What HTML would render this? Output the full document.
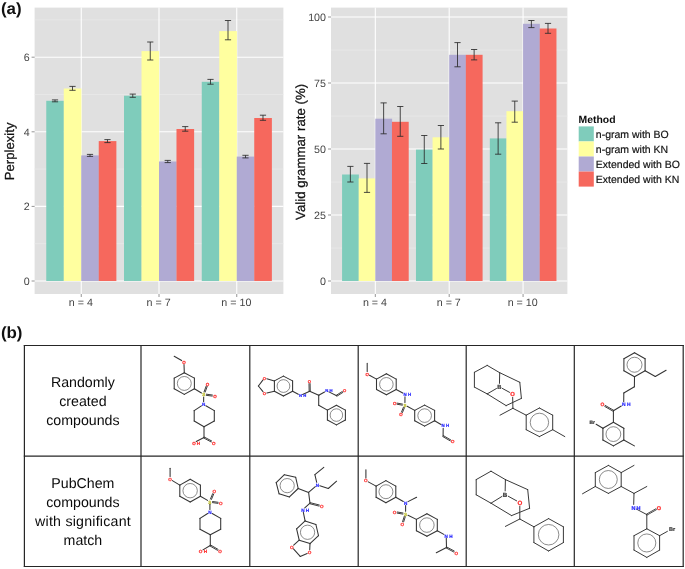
<!DOCTYPE html>
<html><head><meta charset="utf-8"><title>Figure</title>
<style>html,body{margin:0;padding:0;background:#fff;}body{width:685px;height:569px;overflow:hidden;font-family:"Liberation Sans",sans-serif;}svg text{font-family:"Liberation Sans",sans-serif;text-rendering:geometricPrecision;}</style>
</head><body>
<svg width="685" height="569" viewBox="0 0 685 569" font-family='"Liberation Sans", sans-serif' style="display:block;filter:blur(0.35px)">
<rect width="685" height="569" fill="#fff"/>
<rect x="34.6" y="7.6" width="248.79999999999998" height="286.4" fill="#e0e0e0"/>
<line x1="34.6" x2="283.4" y1="243.70" y2="243.70" stroke="#e9e9e9" stroke-width="0.7"/>
<line x1="34.6" x2="283.4" y1="169.10" y2="169.10" stroke="#e9e9e9" stroke-width="0.7"/>
<line x1="34.6" x2="283.4" y1="94.50" y2="94.50" stroke="#e9e9e9" stroke-width="0.7"/>
<line x1="34.6" x2="283.4" y1="19.90" y2="19.90" stroke="#e9e9e9" stroke-width="0.7"/>
<line x1="34.6" x2="283.4" y1="281.00" y2="281.00" stroke="#fff" stroke-width="1.1"/>
<line x1="31.6" x2="34.6" y1="281.00" y2="281.00" stroke="#7a7a7a" stroke-width="0.8"/>
<text x="29.6" y="284.80" font-size="10.7" fill="#444" text-anchor="end">0</text>
<line x1="34.6" x2="283.4" y1="206.40" y2="206.40" stroke="#fff" stroke-width="1.1"/>
<line x1="31.6" x2="34.6" y1="206.40" y2="206.40" stroke="#7a7a7a" stroke-width="0.8"/>
<text x="29.6" y="210.20" font-size="10.7" fill="#444" text-anchor="end">2</text>
<line x1="34.6" x2="283.4" y1="131.80" y2="131.80" stroke="#fff" stroke-width="1.1"/>
<line x1="31.6" x2="34.6" y1="131.80" y2="131.80" stroke="#7a7a7a" stroke-width="0.8"/>
<text x="29.6" y="135.60" font-size="10.7" fill="#444" text-anchor="end">4</text>
<line x1="34.6" x2="283.4" y1="57.20" y2="57.20" stroke="#fff" stroke-width="1.1"/>
<line x1="31.6" x2="34.6" y1="57.20" y2="57.20" stroke="#7a7a7a" stroke-width="0.8"/>
<text x="29.6" y="61.00" font-size="10.7" fill="#444" text-anchor="end">6</text>
<line x1="81.25" x2="81.25" y1="7.6" y2="294" stroke="#fff" stroke-width="1.1"/>
<line x1="81.25" x2="81.25" y1="294" y2="297" stroke="#7a7a7a" stroke-width="0.8"/>
<line x1="159.00" x2="159.00" y1="7.6" y2="294" stroke="#fff" stroke-width="1.1"/>
<line x1="159.00" x2="159.00" y1="294" y2="297" stroke="#7a7a7a" stroke-width="0.8"/>
<line x1="236.75" x2="236.75" y1="7.6" y2="294" stroke="#fff" stroke-width="1.1"/>
<line x1="236.75" x2="236.75" y1="294" y2="297" stroke="#7a7a7a" stroke-width="0.8"/>
<rect x="46.26" y="100.80" width="17.64" height="180.20" fill="#7fccbb"/>
<rect x="63.76" y="88.50" width="17.64" height="192.50" fill="#ffff9f"/>
<rect x="81.25" y="155.40" width="17.64" height="125.60" fill="#b0aad3"/>
<rect x="98.74" y="141.10" width="17.64" height="139.90" fill="#f6685d"/>
<rect x="124.01" y="95.70" width="17.64" height="185.30" fill="#7fccbb"/>
<rect x="141.51" y="51.10" width="17.64" height="229.90" fill="#ffff9f"/>
<rect x="159.00" y="161.50" width="17.64" height="119.50" fill="#b0aad3"/>
<rect x="176.49" y="129.00" width="17.64" height="152.00" fill="#f6685d"/>
<rect x="201.76" y="81.80" width="17.64" height="199.20" fill="#7fccbb"/>
<rect x="219.26" y="31.10" width="17.64" height="249.90" fill="#ffff9f"/>
<rect x="236.75" y="156.60" width="17.64" height="124.40" fill="#b0aad3"/>
<rect x="254.24" y="118.00" width="17.64" height="163.00" fill="#f6685d"/>
<path d="M51.91 99.90H58.11M51.91 101.80H58.11M55.01 99.90V101.80" stroke="#2b2b2b" stroke-width="0.85" fill="none"/>
<path d="M69.40 86.40H75.60M69.40 90.30H75.60M72.50 86.40V90.30" stroke="#2b2b2b" stroke-width="0.85" fill="none"/>
<path d="M86.90 154.40H93.10M86.90 156.40H93.10M90.00 154.40V156.40" stroke="#2b2b2b" stroke-width="0.85" fill="none"/>
<path d="M104.39 139.60H110.59M104.39 142.60H110.59M107.49 139.60V142.60" stroke="#2b2b2b" stroke-width="0.85" fill="none"/>
<path d="M129.66 94.10H135.86M129.66 97.30H135.86M132.76 94.10V97.30" stroke="#2b2b2b" stroke-width="0.85" fill="none"/>
<path d="M147.15 42.00H153.35M147.15 60.00H153.35M150.25 42.00V60.00" stroke="#2b2b2b" stroke-width="0.85" fill="none"/>
<path d="M164.65 160.40H170.85M164.65 162.60H170.85M167.75 160.40V162.60" stroke="#2b2b2b" stroke-width="0.85" fill="none"/>
<path d="M182.14 126.60H188.34M182.14 131.20H188.34M185.24 126.60V131.20" stroke="#2b2b2b" stroke-width="0.85" fill="none"/>
<path d="M207.41 79.40H213.61M207.41 84.20H213.61M210.51 79.40V84.20" stroke="#2b2b2b" stroke-width="0.85" fill="none"/>
<path d="M224.90 20.50H231.10M224.90 39.80H231.10M228.00 20.50V39.80" stroke="#2b2b2b" stroke-width="0.85" fill="none"/>
<path d="M242.40 155.30H248.60M242.40 157.90H248.60M245.50 155.30V157.90" stroke="#2b2b2b" stroke-width="0.85" fill="none"/>
<path d="M259.89 115.20H266.09M259.89 120.30H266.09M262.99 115.20V120.30" stroke="#2b2b2b" stroke-width="0.85" fill="none"/>
<text x="80.85" y="306.00" font-size="10.7" fill="#444" text-anchor="middle">n = 4</text>
<text x="158.60" y="306.00" font-size="10.7" fill="#444" text-anchor="middle">n = 7</text>
<text x="236.35" y="306.00" font-size="10.7" fill="#444" text-anchor="middle">n = 10</text>
<rect x="331" y="7.6" width="236.39999999999998" height="286.4" fill="#e0e0e0"/>
<line x1="331" x2="567.4" y1="248.00" y2="248.00" stroke="#e9e9e9" stroke-width="0.7"/>
<line x1="331" x2="567.4" y1="182.00" y2="182.00" stroke="#e9e9e9" stroke-width="0.7"/>
<line x1="331" x2="567.4" y1="116.00" y2="116.00" stroke="#e9e9e9" stroke-width="0.7"/>
<line x1="331" x2="567.4" y1="50.00" y2="50.00" stroke="#e9e9e9" stroke-width="0.7"/>
<line x1="331" x2="567.4" y1="281.00" y2="281.00" stroke="#fff" stroke-width="1.1"/>
<line x1="328" x2="331" y1="281.00" y2="281.00" stroke="#7a7a7a" stroke-width="0.8"/>
<text x="326" y="284.80" font-size="10.7" fill="#444" text-anchor="end">0</text>
<line x1="331" x2="567.4" y1="215.00" y2="215.00" stroke="#fff" stroke-width="1.1"/>
<line x1="328" x2="331" y1="215.00" y2="215.00" stroke="#7a7a7a" stroke-width="0.8"/>
<text x="326" y="218.80" font-size="10.7" fill="#444" text-anchor="end">25</text>
<line x1="331" x2="567.4" y1="149.00" y2="149.00" stroke="#fff" stroke-width="1.1"/>
<line x1="328" x2="331" y1="149.00" y2="149.00" stroke="#7a7a7a" stroke-width="0.8"/>
<text x="326" y="152.80" font-size="10.7" fill="#444" text-anchor="end">50</text>
<line x1="331" x2="567.4" y1="83.00" y2="83.00" stroke="#fff" stroke-width="1.1"/>
<line x1="328" x2="331" y1="83.00" y2="83.00" stroke="#7a7a7a" stroke-width="0.8"/>
<text x="326" y="86.80" font-size="10.7" fill="#444" text-anchor="end">75</text>
<line x1="331" x2="567.4" y1="17.00" y2="17.00" stroke="#fff" stroke-width="1.1"/>
<line x1="328" x2="331" y1="17.00" y2="17.00" stroke="#7a7a7a" stroke-width="0.8"/>
<text x="326" y="20.80" font-size="10.7" fill="#444" text-anchor="end">100</text>
<line x1="375.32" x2="375.32" y1="7.6" y2="294" stroke="#fff" stroke-width="1.1"/>
<line x1="375.32" x2="375.32" y1="294" y2="297" stroke="#7a7a7a" stroke-width="0.8"/>
<line x1="449.20" x2="449.20" y1="7.6" y2="294" stroke="#fff" stroke-width="1.1"/>
<line x1="449.20" x2="449.20" y1="294" y2="297" stroke="#7a7a7a" stroke-width="0.8"/>
<line x1="523.07" x2="523.07" y1="7.6" y2="294" stroke="#fff" stroke-width="1.1"/>
<line x1="523.07" x2="523.07" y1="294" y2="297" stroke="#7a7a7a" stroke-width="0.8"/>
<rect x="342.08" y="174.50" width="16.77" height="106.50" fill="#7fccbb"/>
<rect x="358.70" y="178.40" width="16.77" height="102.60" fill="#ffff9f"/>
<rect x="375.32" y="118.70" width="16.77" height="162.30" fill="#b0aad3"/>
<rect x="391.95" y="121.80" width="16.77" height="159.20" fill="#f6685d"/>
<rect x="415.96" y="149.60" width="16.77" height="131.40" fill="#7fccbb"/>
<rect x="432.58" y="137.30" width="16.77" height="143.70" fill="#ffff9f"/>
<rect x="449.20" y="54.80" width="16.77" height="226.20" fill="#b0aad3"/>
<rect x="465.82" y="54.80" width="16.77" height="226.20" fill="#f6685d"/>
<rect x="489.83" y="138.40" width="16.77" height="142.60" fill="#7fccbb"/>
<rect x="506.45" y="111.20" width="16.77" height="169.80" fill="#ffff9f"/>
<rect x="523.07" y="23.80" width="16.77" height="257.20" fill="#b0aad3"/>
<rect x="539.70" y="28.50" width="16.77" height="252.50" fill="#f6685d"/>
<path d="M347.29 166.40H353.49M347.29 182.00H353.49M350.39 166.40V182.00" stroke="#2b2b2b" stroke-width="0.85" fill="none"/>
<path d="M363.91 163.40H370.11M363.91 192.40H370.11M367.01 163.40V192.40" stroke="#2b2b2b" stroke-width="0.85" fill="none"/>
<path d="M380.54 102.90H386.74M380.54 133.80H386.74M383.64 102.90V133.80" stroke="#2b2b2b" stroke-width="0.85" fill="none"/>
<path d="M397.16 106.50H403.36M397.16 136.30H403.36M400.26 106.50V136.30" stroke="#2b2b2b" stroke-width="0.85" fill="none"/>
<path d="M421.17 135.50H427.37M421.17 163.50H427.37M424.27 135.50V163.50" stroke="#2b2b2b" stroke-width="0.85" fill="none"/>
<path d="M437.79 125.50H443.99M437.79 149.00H443.99M440.89 125.50V149.00" stroke="#2b2b2b" stroke-width="0.85" fill="none"/>
<path d="M454.41 42.60H460.61M454.41 66.80H460.61M457.51 42.60V66.80" stroke="#2b2b2b" stroke-width="0.85" fill="none"/>
<path d="M471.03 49.50H477.23M471.03 59.90H477.23M474.13 49.50V59.90" stroke="#2b2b2b" stroke-width="0.85" fill="none"/>
<path d="M495.04 122.80H501.24M495.04 154.20H501.24M498.14 122.80V154.20" stroke="#2b2b2b" stroke-width="0.85" fill="none"/>
<path d="M511.66 101.10H517.86M511.66 122.20H517.86M514.76 101.10V122.20" stroke="#2b2b2b" stroke-width="0.85" fill="none"/>
<path d="M528.29 20.50H534.49M528.29 27.60H534.49M531.39 20.50V27.60" stroke="#2b2b2b" stroke-width="0.85" fill="none"/>
<path d="M544.91 23.40H551.11M544.91 33.30H551.11M548.01 23.40V33.30" stroke="#2b2b2b" stroke-width="0.85" fill="none"/>
<text x="374.93" y="306.00" font-size="10.7" fill="#444" text-anchor="middle">n = 4</text>
<text x="448.80" y="306.00" font-size="10.7" fill="#444" text-anchor="middle">n = 7</text>
<text x="522.67" y="306.00" font-size="10.7" fill="#444" text-anchor="middle">n = 10</text>
<text transform="translate(14.0 151.4) rotate(-90)" font-size="13.15" fill="#111" stroke="#111" stroke-width="0.25" text-anchor="middle">Perplexity</text>
<text transform="translate(305.0 151.9) rotate(-90)" font-size="13.25" fill="#111" stroke="#111" stroke-width="0.25" text-anchor="middle">Valid grammar rate (%)</text>
<text x="0.9" y="13.8" font-size="16.3" font-weight="bold" fill="#111" textLength="20.7" lengthAdjust="spacingAndGlyphs">(a)</text>
<text x="0.9" y="337.6" font-size="16.3" font-weight="bold" fill="#111" textLength="21.6" lengthAdjust="spacingAndGlyphs">(b)</text>
<text x="578.6" y="122.7" font-size="10.4" font-weight="bold" fill="#0a0a0a">Method</text>
<rect x="578.7" y="126.40" width="15.1" height="15.05" fill="#7fccbb"/>
<text x="595.8" y="138.15" font-size="10.5" fill="#111" stroke="#111" stroke-width="0.18">n-gram with BO</text>
<rect x="578.7" y="141.45" width="15.1" height="15.05" fill="#ffff9f"/>
<text x="595.8" y="153.20" font-size="10.5" fill="#111" stroke="#111" stroke-width="0.18">n-gram with KN</text>
<rect x="578.7" y="156.50" width="15.1" height="15.05" fill="#b0aad3"/>
<text x="595.8" y="168.25" font-size="10.5" fill="#111" stroke="#111" stroke-width="0.18">Extended with BO</text>
<rect x="578.7" y="171.55" width="15.1" height="15.05" fill="#f6685d"/>
<text x="595.8" y="183.30" font-size="10.5" fill="#111" stroke="#111" stroke-width="0.18">Extended with KN</text>
<line x1="24.4" x2="24.4" y1="344.9" y2="567.1" stroke="#262626" stroke-width="1.2"/>
<line x1="141.0" x2="141.0" y1="344.9" y2="567.1" stroke="#262626" stroke-width="1.2"/>
<line x1="249.8" x2="249.8" y1="344.9" y2="567.1" stroke="#262626" stroke-width="1.2"/>
<line x1="358.2" x2="358.2" y1="344.9" y2="567.1" stroke="#262626" stroke-width="1.2"/>
<line x1="466.2" x2="466.2" y1="344.9" y2="567.1" stroke="#262626" stroke-width="1.2"/>
<line x1="574.3" x2="574.3" y1="344.9" y2="567.1" stroke="#262626" stroke-width="1.2"/>
<line x1="683.2" x2="683.2" y1="344.9" y2="567.1" stroke="#262626" stroke-width="1.2"/>
<line x1="23.799999999999997" x2="683.8000000000001" y1="345.5" y2="345.5" stroke="#262626" stroke-width="1.2"/>
<line x1="23.799999999999997" x2="683.8000000000001" y1="456.1" y2="456.1" stroke="#262626" stroke-width="1.2"/>
<line x1="23.799999999999997" x2="683.8000000000001" y1="566.5" y2="566.5" stroke="#262626" stroke-width="1.2"/>
<text x="82.9" y="387.3" font-size="14.2" fill="#0a0a0a" text-anchor="middle">Randomly</text>
<text x="82.9" y="405.9" font-size="14.2" fill="#0a0a0a" text-anchor="middle">created</text>
<text x="82.9" y="424.7" font-size="14.2" fill="#0a0a0a" text-anchor="middle">compounds</text>
<text x="82.9" y="488.2" font-size="14.2" fill="#0a0a0a" text-anchor="middle">PubChem</text>
<text x="82.9" y="507.3" font-size="14.2" fill="#0a0a0a" text-anchor="middle">compounds</text>
<text x="82.9" y="526.1" font-size="14.2" fill="#0a0a0a" text-anchor="middle" textLength="95.6" lengthAdjust="spacing">with significant</text>
<text x="82.9" y="544.7" font-size="14.2" fill="#0a0a0a" text-anchor="middle">match</text>
<line x1="184.30" y1="372.70" x2="194.40" y2="378.10" stroke="#343434" stroke-width="1.06" stroke-linecap="round"/>
<line x1="194.40" y1="378.10" x2="194.40" y2="388.70" stroke="#343434" stroke-width="1.06" stroke-linecap="round"/>
<line x1="194.40" y1="388.70" x2="184.30" y2="394.40" stroke="#343434" stroke-width="1.06" stroke-linecap="round"/>
<line x1="184.30" y1="394.40" x2="174.20" y2="388.70" stroke="#343434" stroke-width="1.06" stroke-linecap="round"/>
<line x1="174.20" y1="388.70" x2="174.20" y2="378.10" stroke="#343434" stroke-width="1.06" stroke-linecap="round"/>
<line x1="174.20" y1="378.10" x2="184.30" y2="372.70" stroke="#343434" stroke-width="1.06" stroke-linecap="round"/>
<line x1="205.86" y1="405.71" x2="214.30" y2="410.60" stroke="#343434" stroke-width="1.06" stroke-linecap="round"/>
<line x1="214.30" y1="410.60" x2="214.30" y2="421.00" stroke="#343434" stroke-width="1.06" stroke-linecap="round"/>
<line x1="214.30" y1="421.00" x2="204.00" y2="426.80" stroke="#343434" stroke-width="1.06" stroke-linecap="round"/>
<line x1="204.00" y1="426.80" x2="194.20" y2="421.00" stroke="#343434" stroke-width="1.06" stroke-linecap="round"/>
<line x1="194.20" y1="421.00" x2="194.20" y2="410.60" stroke="#343434" stroke-width="1.06" stroke-linecap="round"/>
<line x1="194.20" y1="410.60" x2="201.42" y2="405.84" stroke="#343434" stroke-width="1.06" stroke-linecap="round"/>
<line x1="174.20" y1="356.20" x2="181.65" y2="360.58" stroke="#343434" stroke-width="1.06" stroke-linecap="round"/>
<line x1="184.00" y1="364.51" x2="184.30" y2="372.70" stroke="#343434" stroke-width="1.06" stroke-linecap="round"/>
<line x1="194.40" y1="388.70" x2="201.47" y2="393.04" stroke="#343434" stroke-width="1.06" stroke-linecap="round"/>
<line x1="204.09" y1="391.76" x2="206.18" y2="386.06" stroke="#343434" stroke-width="0.95" stroke-linecap="round"/>
<line x1="205.12" y1="392.14" x2="207.21" y2="386.44" stroke="#343434" stroke-width="0.95" stroke-linecap="round"/>
<line x1="206.36" y1="394.20" x2="212.39" y2="395.01" stroke="#343434" stroke-width="0.95" stroke-linecap="round"/>
<line x1="206.21" y1="395.29" x2="212.24" y2="396.10" stroke="#343434" stroke-width="0.95" stroke-linecap="round"/>
<line x1="203.67" y1="397.01" x2="203.63" y2="401.79" stroke="#343434" stroke-width="1.06" stroke-linecap="round"/>
<line x1="204.00" y1="426.80" x2="204.00" y2="437.50" stroke="#343434" stroke-width="1.06" stroke-linecap="round"/>
<line x1="204.26" y1="437.02" x2="211.66" y2="440.98" stroke="#343434" stroke-width="0.95" stroke-linecap="round"/>
<line x1="203.74" y1="437.98" x2="211.14" y2="441.95" stroke="#343434" stroke-width="0.95" stroke-linecap="round"/>
<line x1="204.00" y1="437.50" x2="196.22" y2="441.51" stroke="#343434" stroke-width="1.06" stroke-linecap="round"/>
<circle cx="184.30" cy="383.45" r="6.96" fill="none" stroke="#5a5a5a" stroke-width="0.7"/>
<text x="203.60" y="406.20" font-size="4.5" font-weight="bold" fill="#2a2aff" stroke="#2a2aff" stroke-width="0.22" text-anchor="middle">N</text>
<text x="183.90" y="363.70" font-size="4.5" font-weight="bold" fill="#ff2a2a" stroke="#ff2a2a" stroke-width="0.22" text-anchor="middle">O</text>
<text x="203.70" y="396.20" font-size="4.5" font-weight="bold" fill="#bcbc2a" stroke="#bcbc2a" stroke-width="0.22" text-anchor="middle">S</text>
<text x="207.60" y="385.60" font-size="4.5" font-weight="bold" fill="#ff2a2a" stroke="#ff2a2a" stroke-width="0.22" text-anchor="middle">O</text>
<text x="214.90" y="397.70" font-size="4.5" font-weight="bold" fill="#ff2a2a" stroke="#ff2a2a" stroke-width="0.22" text-anchor="middle">O</text>
<text x="213.70" y="444.50" font-size="4.5" font-weight="bold" fill="#ff2a2a" stroke="#ff2a2a" stroke-width="0.22" text-anchor="middle">O</text>
<text x="193.90" y="444.50" font-size="4.5" font-weight="bold" fill="#ff2a2a" stroke="#ff2a2a" stroke-width="0.22" text-anchor="middle">O</text>
<text x="198.49" y="444.50" font-size="4.5" font-weight="bold" fill="#ff2a2a" stroke="#ff2a2a" stroke-width="0.22" text-anchor="middle">H</text>
<line x1="283.40" y1="376.10" x2="292.60" y2="380.90" stroke="#343434" stroke-width="1.06" stroke-linecap="round"/>
<line x1="292.60" y1="380.90" x2="292.60" y2="391.20" stroke="#343434" stroke-width="1.06" stroke-linecap="round"/>
<line x1="292.60" y1="391.20" x2="283.40" y2="396.00" stroke="#343434" stroke-width="1.06" stroke-linecap="round"/>
<line x1="283.40" y1="396.00" x2="274.40" y2="391.20" stroke="#343434" stroke-width="1.06" stroke-linecap="round"/>
<line x1="274.40" y1="391.20" x2="274.40" y2="380.90" stroke="#343434" stroke-width="1.06" stroke-linecap="round"/>
<line x1="274.40" y1="380.90" x2="283.40" y2="376.10" stroke="#343434" stroke-width="1.06" stroke-linecap="round"/>
<line x1="336.40" y1="405.30" x2="345.40" y2="410.10" stroke="#343434" stroke-width="1.06" stroke-linecap="round"/>
<line x1="345.40" y1="410.10" x2="345.40" y2="420.00" stroke="#343434" stroke-width="1.06" stroke-linecap="round"/>
<line x1="345.40" y1="420.00" x2="336.40" y2="424.90" stroke="#343434" stroke-width="1.06" stroke-linecap="round"/>
<line x1="336.40" y1="424.90" x2="327.40" y2="420.00" stroke="#343434" stroke-width="1.06" stroke-linecap="round"/>
<line x1="327.40" y1="420.00" x2="327.40" y2="410.10" stroke="#343434" stroke-width="1.06" stroke-linecap="round"/>
<line x1="327.40" y1="410.10" x2="336.40" y2="405.30" stroke="#343434" stroke-width="1.06" stroke-linecap="round"/>
<line x1="274.40" y1="380.90" x2="266.84" y2="378.68" stroke="#343434" stroke-width="1.06" stroke-linecap="round"/>
<line x1="263.02" y1="379.94" x2="258.40" y2="386.00" stroke="#343434" stroke-width="1.06" stroke-linecap="round"/>
<line x1="258.40" y1="386.00" x2="262.98" y2="391.70" stroke="#343434" stroke-width="1.06" stroke-linecap="round"/>
<line x1="266.87" y1="393.03" x2="274.40" y2="391.20" stroke="#343434" stroke-width="1.06" stroke-linecap="round"/>
<line x1="292.60" y1="391.20" x2="298.27" y2="394.32" stroke="#343434" stroke-width="1.06" stroke-linecap="round"/>
<line x1="302.61" y1="394.48" x2="309.70" y2="391.20" stroke="#343434" stroke-width="1.06" stroke-linecap="round"/>
<line x1="309.15" y1="391.21" x2="309.00" y2="383.65" stroke="#343434" stroke-width="0.95" stroke-linecap="round"/>
<line x1="310.25" y1="391.19" x2="310.10" y2="383.62" stroke="#343434" stroke-width="0.95" stroke-linecap="round"/>
<line x1="309.70" y1="391.20" x2="318.70" y2="395.30" stroke="#343434" stroke-width="1.06" stroke-linecap="round"/>
<line x1="318.70" y1="395.30" x2="324.58" y2="391.99" stroke="#343434" stroke-width="1.06" stroke-linecap="round"/>
<line x1="328.89" y1="391.87" x2="336.70" y2="395.70" stroke="#343434" stroke-width="1.06" stroke-linecap="round"/>
<line x1="336.40" y1="395.24" x2="342.35" y2="391.45" stroke="#343434" stroke-width="0.95" stroke-linecap="round"/>
<line x1="337.00" y1="396.16" x2="342.94" y2="392.37" stroke="#343434" stroke-width="0.95" stroke-linecap="round"/>
<line x1="318.70" y1="395.30" x2="318.70" y2="405.30" stroke="#343434" stroke-width="1.06" stroke-linecap="round"/>
<line x1="318.70" y1="405.30" x2="327.40" y2="410.10" stroke="#343434" stroke-width="1.06" stroke-linecap="round"/>
<circle cx="283.47" cy="386.05" r="6.38" fill="none" stroke="#5a5a5a" stroke-width="0.7"/>
<circle cx="336.40" cy="415.07" r="6.27" fill="none" stroke="#5a5a5a" stroke-width="0.7"/>
<text x="264.50" y="379.68" font-size="4.2" font-weight="bold" fill="#ff2a2a" stroke="#ff2a2a" stroke-width="0.22" text-anchor="middle">O</text>
<text x="264.50" y="395.28" font-size="4.2" font-weight="bold" fill="#ff2a2a" stroke="#ff2a2a" stroke-width="0.22" text-anchor="middle">O</text>
<text x="300.40" y="397.18" font-size="4.2" font-weight="bold" fill="#2a2aff" stroke="#2a2aff" stroke-width="0.22" text-anchor="middle">N</text>
<text x="304.68" y="397.18" font-size="4.2" font-weight="bold" fill="#2a2aff" stroke="#2a2aff" stroke-width="0.22" text-anchor="middle">H</text>
<text x="309.50" y="382.88" font-size="4.2" font-weight="bold" fill="#ff2a2a" stroke="#ff2a2a" stroke-width="0.22" text-anchor="middle">O</text>
<text x="326.70" y="392.48" font-size="4.2" font-weight="bold" fill="#2a2aff" stroke="#2a2aff" stroke-width="0.22" text-anchor="middle">N</text>
<text x="330.98" y="392.48" font-size="4.2" font-weight="bold" fill="#2a2aff" stroke="#2a2aff" stroke-width="0.22" text-anchor="middle">H</text>
<text x="344.70" y="392.28" font-size="4.2" font-weight="bold" fill="#ff2a2a" stroke="#ff2a2a" stroke-width="0.22" text-anchor="middle">O</text>
<line x1="386.40" y1="373.80" x2="396.20" y2="379.10" stroke="#343434" stroke-width="1.06" stroke-linecap="round"/>
<line x1="396.20" y1="379.10" x2="396.20" y2="389.50" stroke="#343434" stroke-width="1.06" stroke-linecap="round"/>
<line x1="396.20" y1="389.50" x2="386.40" y2="394.80" stroke="#343434" stroke-width="1.06" stroke-linecap="round"/>
<line x1="386.40" y1="394.80" x2="376.50" y2="389.50" stroke="#343434" stroke-width="1.06" stroke-linecap="round"/>
<line x1="376.50" y1="389.50" x2="376.50" y2="379.10" stroke="#343434" stroke-width="1.06" stroke-linecap="round"/>
<line x1="376.50" y1="379.10" x2="386.40" y2="373.80" stroke="#343434" stroke-width="1.06" stroke-linecap="round"/>
<line x1="424.60" y1="405.10" x2="434.60" y2="410.40" stroke="#343434" stroke-width="1.06" stroke-linecap="round"/>
<line x1="434.60" y1="410.40" x2="434.60" y2="420.80" stroke="#343434" stroke-width="1.06" stroke-linecap="round"/>
<line x1="434.60" y1="420.80" x2="424.60" y2="426.10" stroke="#343434" stroke-width="1.06" stroke-linecap="round"/>
<line x1="424.60" y1="426.10" x2="414.70" y2="420.80" stroke="#343434" stroke-width="1.06" stroke-linecap="round"/>
<line x1="414.70" y1="420.80" x2="414.70" y2="410.40" stroke="#343434" stroke-width="1.06" stroke-linecap="round"/>
<line x1="414.70" y1="410.40" x2="424.60" y2="405.10" stroke="#343434" stroke-width="1.06" stroke-linecap="round"/>
<line x1="367.20" y1="363.40" x2="367.20" y2="371.45" stroke="#343434" stroke-width="1.06" stroke-linecap="round"/>
<line x1="369.44" y1="375.23" x2="376.50" y2="379.10" stroke="#343434" stroke-width="1.06" stroke-linecap="round"/>
<line x1="396.20" y1="389.50" x2="402.76" y2="393.08" stroke="#343434" stroke-width="1.06" stroke-linecap="round"/>
<line x1="404.98" y1="396.85" x2="404.92" y2="402.55" stroke="#343434" stroke-width="1.06" stroke-linecap="round"/>
<line x1="402.29" y1="405.18" x2="397.01" y2="404.20" stroke="#343434" stroke-width="0.95" stroke-linecap="round"/>
<line x1="402.49" y1="404.10" x2="397.21" y2="403.12" stroke="#343434" stroke-width="0.95" stroke-linecap="round"/>
<line x1="404.45" y1="407.67" x2="402.47" y2="412.54" stroke="#343434" stroke-width="0.95" stroke-linecap="round"/>
<line x1="403.43" y1="407.26" x2="401.45" y2="412.13" stroke="#343434" stroke-width="0.95" stroke-linecap="round"/>
<line x1="407.14" y1="406.31" x2="414.70" y2="410.40" stroke="#343434" stroke-width="1.06" stroke-linecap="round"/>
<line x1="434.60" y1="420.80" x2="440.98" y2="424.44" stroke="#343434" stroke-width="1.06" stroke-linecap="round"/>
<line x1="443.18" y1="428.25" x2="443.10" y2="436.10" stroke="#343434" stroke-width="1.06" stroke-linecap="round"/>
<line x1="443.38" y1="435.62" x2="450.77" y2="439.94" stroke="#343434" stroke-width="0.95" stroke-linecap="round"/>
<line x1="442.82" y1="436.58" x2="450.22" y2="440.89" stroke="#343434" stroke-width="0.95" stroke-linecap="round"/>
<circle cx="386.37" cy="384.30" r="6.77" fill="none" stroke="#5a5a5a" stroke-width="0.7"/>
<circle cx="424.63" cy="415.60" r="6.81" fill="none" stroke="#5a5a5a" stroke-width="0.7"/>
<text x="367.20" y="375.76" font-size="4.4" font-weight="bold" fill="#ff2a2a" stroke="#ff2a2a" stroke-width="0.22" text-anchor="middle">O</text>
<text x="405.00" y="396.06" font-size="4.4" font-weight="bold" fill="#2a2aff" stroke="#2a2aff" stroke-width="0.22" text-anchor="middle">N</text>
<text x="409.49" y="396.06" font-size="4.4" font-weight="bold" fill="#2a2aff" stroke="#2a2aff" stroke-width="0.22" text-anchor="middle">H</text>
<text x="404.90" y="406.86" font-size="4.4" font-weight="bold" fill="#bcbc2a" stroke="#bcbc2a" stroke-width="0.22" text-anchor="middle">S</text>
<text x="394.60" y="404.96" font-size="4.4" font-weight="bold" fill="#ff2a2a" stroke="#ff2a2a" stroke-width="0.22" text-anchor="middle">O</text>
<text x="401.00" y="416.46" font-size="4.4" font-weight="bold" fill="#ff2a2a" stroke="#ff2a2a" stroke-width="0.22" text-anchor="middle">O</text>
<text x="443.20" y="427.46" font-size="4.4" font-weight="bold" fill="#2a2aff" stroke="#2a2aff" stroke-width="0.22" text-anchor="middle">N</text>
<text x="447.69" y="427.46" font-size="4.4" font-weight="bold" fill="#2a2aff" stroke="#2a2aff" stroke-width="0.22" text-anchor="middle">H</text>
<text x="452.70" y="443.46" font-size="4.4" font-weight="bold" fill="#ff2a2a" stroke="#ff2a2a" stroke-width="0.22" text-anchor="middle">O</text>
<line x1="474.40" y1="372.30" x2="487.20" y2="365.40" stroke="#343434" stroke-width="0.98" stroke-linecap="round"/>
<line x1="487.20" y1="365.40" x2="499.70" y2="372.70" stroke="#343434" stroke-width="0.98" stroke-linecap="round"/>
<line x1="499.70" y1="372.70" x2="499.47" y2="383.38" stroke="#343434" stroke-width="0.98" stroke-linecap="round"/>
<line x1="496.44" y1="388.52" x2="487.20" y2="393.90" stroke="#343434" stroke-width="0.98" stroke-linecap="round"/>
<line x1="487.20" y1="393.90" x2="474.40" y2="387.10" stroke="#343434" stroke-width="0.98" stroke-linecap="round"/>
<line x1="474.40" y1="387.10" x2="474.40" y2="372.30" stroke="#343434" stroke-width="0.98" stroke-linecap="round"/>
<line x1="499.70" y1="372.70" x2="519.80" y2="382.30" stroke="#343434" stroke-width="0.98" stroke-linecap="round"/>
<line x1="519.80" y1="382.30" x2="521.40" y2="398.40" stroke="#343434" stroke-width="0.98" stroke-linecap="round"/>
<line x1="521.40" y1="398.40" x2="506.10" y2="405.60" stroke="#343434" stroke-width="0.98" stroke-linecap="round"/>
<line x1="506.10" y1="405.60" x2="487.20" y2="393.90" stroke="#343434" stroke-width="0.98" stroke-linecap="round"/>
<line x1="502.40" y1="388.44" x2="509.60" y2="392.36" stroke="#343434" stroke-width="0.98" stroke-linecap="round"/>
<line x1="512.67" y1="397.42" x2="512.90" y2="408.30" stroke="#343434" stroke-width="0.98" stroke-linecap="round"/>
<line x1="512.90" y1="408.30" x2="500.00" y2="415.20" stroke="#343434" stroke-width="0.98" stroke-linecap="round"/>
<line x1="539.40" y1="408.00" x2="552.70" y2="415.20" stroke="#343434" stroke-width="0.98" stroke-linecap="round"/>
<line x1="552.70" y1="415.20" x2="552.70" y2="429.70" stroke="#343434" stroke-width="0.98" stroke-linecap="round"/>
<line x1="552.70" y1="429.70" x2="539.40" y2="436.60" stroke="#343434" stroke-width="0.98" stroke-linecap="round"/>
<line x1="539.40" y1="436.60" x2="526.20" y2="429.70" stroke="#343434" stroke-width="0.98" stroke-linecap="round"/>
<line x1="526.20" y1="429.70" x2="526.20" y2="415.20" stroke="#343434" stroke-width="0.98" stroke-linecap="round"/>
<line x1="526.20" y1="415.20" x2="539.40" y2="408.00" stroke="#343434" stroke-width="0.98" stroke-linecap="round"/>
<line x1="512.90" y1="408.30" x2="526.20" y2="415.20" stroke="#343434" stroke-width="0.98" stroke-linecap="round"/>
<line x1="552.70" y1="429.70" x2="564.80" y2="436.60" stroke="#343434" stroke-width="0.98" stroke-linecap="round"/>
<circle cx="539.43" cy="422.40" r="9.20" fill="none" stroke="#5a5a5a" stroke-width="0.7"/>
<text x="499.40" y="389.16" font-size="5.9" font-weight="bold" fill="#3a3a3a" stroke="#3a3a3a" stroke-width="0.22" text-anchor="middle">B</text>
<text x="512.60" y="396.36" font-size="5.9" font-weight="bold" fill="#ff2a2a" stroke="#ff2a2a" stroke-width="0.22" text-anchor="middle">O</text>
<line x1="634.50" y1="352.80" x2="645.10" y2="358.70" stroke="#343434" stroke-width="1.05" stroke-linecap="round"/>
<line x1="645.10" y1="358.70" x2="645.10" y2="370.80" stroke="#343434" stroke-width="1.05" stroke-linecap="round"/>
<line x1="645.10" y1="370.80" x2="634.50" y2="376.70" stroke="#343434" stroke-width="1.05" stroke-linecap="round"/>
<line x1="634.50" y1="376.70" x2="623.90" y2="370.80" stroke="#343434" stroke-width="1.05" stroke-linecap="round"/>
<line x1="623.90" y1="370.80" x2="623.90" y2="358.70" stroke="#343434" stroke-width="1.05" stroke-linecap="round"/>
<line x1="623.90" y1="358.70" x2="634.50" y2="352.80" stroke="#343434" stroke-width="1.05" stroke-linecap="round"/>
<line x1="613.40" y1="422.30" x2="623.80" y2="428.20" stroke="#343434" stroke-width="1.05" stroke-linecap="round"/>
<line x1="623.80" y1="428.20" x2="623.80" y2="440.00" stroke="#343434" stroke-width="1.05" stroke-linecap="round"/>
<line x1="623.80" y1="440.00" x2="613.40" y2="445.90" stroke="#343434" stroke-width="1.05" stroke-linecap="round"/>
<line x1="613.40" y1="445.90" x2="602.90" y2="440.00" stroke="#343434" stroke-width="1.05" stroke-linecap="round"/>
<line x1="602.90" y1="440.00" x2="602.90" y2="428.20" stroke="#343434" stroke-width="1.05" stroke-linecap="round"/>
<line x1="602.90" y1="428.20" x2="613.40" y2="422.30" stroke="#343434" stroke-width="1.05" stroke-linecap="round"/>
<line x1="645.10" y1="370.80" x2="655.30" y2="376.50" stroke="#343434" stroke-width="1.05" stroke-linecap="round"/>
<line x1="655.30" y1="376.50" x2="666.10" y2="370.20" stroke="#343434" stroke-width="1.05" stroke-linecap="round"/>
<line x1="634.50" y1="376.70" x2="634.40" y2="386.70" stroke="#343434" stroke-width="1.05" stroke-linecap="round"/>
<line x1="634.40" y1="386.70" x2="623.80" y2="393.00" stroke="#343434" stroke-width="1.05" stroke-linecap="round"/>
<line x1="623.80" y1="393.00" x2="623.72" y2="401.66" stroke="#343434" stroke-width="1.05" stroke-linecap="round"/>
<line x1="621.28" y1="405.98" x2="613.40" y2="410.80" stroke="#343434" stroke-width="1.05" stroke-linecap="round"/>
<line x1="613.12" y1="411.28" x2="604.69" y2="406.40" stroke="#343434" stroke-width="0.95" stroke-linecap="round"/>
<line x1="613.68" y1="410.32" x2="605.24" y2="405.45" stroke="#343434" stroke-width="0.95" stroke-linecap="round"/>
<line x1="613.40" y1="410.80" x2="613.40" y2="422.30" stroke="#343434" stroke-width="1.05" stroke-linecap="round"/>
<line x1="602.90" y1="428.20" x2="596.14" y2="424.32" stroke="#343434" stroke-width="1.05" stroke-linecap="round"/>
<line x1="623.80" y1="440.00" x2="634.40" y2="445.90" stroke="#343434" stroke-width="1.05" stroke-linecap="round"/>
<circle cx="634.50" cy="364.75" r="7.51" fill="none" stroke="#5a5a5a" stroke-width="0.7"/>
<circle cx="613.37" cy="434.10" r="7.40" fill="none" stroke="#5a5a5a" stroke-width="0.7"/>
<text x="623.70" y="406.46" font-size="4.9" font-weight="bold" fill="#2a2aff" stroke="#2a2aff" stroke-width="0.22" text-anchor="middle">N</text>
<text x="628.70" y="406.46" font-size="4.9" font-weight="bold" fill="#2a2aff" stroke="#2a2aff" stroke-width="0.22" text-anchor="middle">H</text>
<text x="602.50" y="406.46" font-size="4.9" font-weight="bold" fill="#ff2a2a" stroke="#ff2a2a" stroke-width="0.22" text-anchor="middle">O</text>
<text x="592.10" y="423.96" font-size="4.9" font-weight="bold" fill="#3a3a3a" stroke="#3a3a3a" stroke-width="0.22" text-anchor="middle">Br</text>
<line x1="190.20" y1="479.20" x2="200.40" y2="485.10" stroke="#343434" stroke-width="1.06" stroke-linecap="round"/>
<line x1="200.40" y1="485.10" x2="200.40" y2="496.30" stroke="#343434" stroke-width="1.06" stroke-linecap="round"/>
<line x1="200.40" y1="496.30" x2="190.20" y2="502.00" stroke="#343434" stroke-width="1.06" stroke-linecap="round"/>
<line x1="190.20" y1="502.00" x2="179.80" y2="496.30" stroke="#343434" stroke-width="1.06" stroke-linecap="round"/>
<line x1="179.80" y1="496.30" x2="179.80" y2="485.10" stroke="#343434" stroke-width="1.06" stroke-linecap="round"/>
<line x1="179.80" y1="485.10" x2="190.20" y2="479.20" stroke="#343434" stroke-width="1.06" stroke-linecap="round"/>
<line x1="212.20" y1="513.44" x2="220.70" y2="518.40" stroke="#343434" stroke-width="1.06" stroke-linecap="round"/>
<line x1="220.70" y1="518.40" x2="220.70" y2="529.20" stroke="#343434" stroke-width="1.06" stroke-linecap="round"/>
<line x1="220.70" y1="529.20" x2="210.30" y2="534.70" stroke="#343434" stroke-width="1.06" stroke-linecap="round"/>
<line x1="210.30" y1="534.70" x2="200.00" y2="529.20" stroke="#343434" stroke-width="1.06" stroke-linecap="round"/>
<line x1="200.00" y1="529.20" x2="200.00" y2="518.40" stroke="#343434" stroke-width="1.06" stroke-linecap="round"/>
<line x1="200.00" y1="518.40" x2="207.65" y2="513.53" stroke="#343434" stroke-width="1.06" stroke-linecap="round"/>
<line x1="170.10" y1="468.20" x2="170.10" y2="476.53" stroke="#343434" stroke-width="1.06" stroke-linecap="round"/>
<line x1="172.38" y1="480.59" x2="179.80" y2="485.10" stroke="#343434" stroke-width="1.06" stroke-linecap="round"/>
<line x1="200.40" y1="496.30" x2="207.58" y2="500.38" stroke="#343434" stroke-width="1.06" stroke-linecap="round"/>
<line x1="210.42" y1="499.03" x2="212.66" y2="493.65" stroke="#343434" stroke-width="0.95" stroke-linecap="round"/>
<line x1="211.44" y1="499.45" x2="213.68" y2="494.07" stroke="#343434" stroke-width="0.95" stroke-linecap="round"/>
<line x1="212.62" y1="501.52" x2="218.13" y2="502.29" stroke="#343434" stroke-width="0.95" stroke-linecap="round"/>
<line x1="212.47" y1="502.61" x2="217.98" y2="503.38" stroke="#343434" stroke-width="0.95" stroke-linecap="round"/>
<line x1="209.90" y1="504.37" x2="209.90" y2="509.43" stroke="#343434" stroke-width="1.06" stroke-linecap="round"/>
<line x1="210.30" y1="534.70" x2="210.30" y2="545.50" stroke="#343434" stroke-width="1.06" stroke-linecap="round"/>
<line x1="210.58" y1="545.02" x2="218.07" y2="549.38" stroke="#343434" stroke-width="0.95" stroke-linecap="round"/>
<line x1="210.02" y1="545.98" x2="217.52" y2="550.33" stroke="#343434" stroke-width="0.95" stroke-linecap="round"/>
<line x1="210.30" y1="545.50" x2="202.90" y2="549.85" stroke="#343434" stroke-width="1.06" stroke-linecap="round"/>
<circle cx="190.13" cy="490.67" r="7.20" fill="none" stroke="#5a5a5a" stroke-width="0.7"/>
<text x="209.90" y="513.94" font-size="4.6" font-weight="bold" fill="#2a2aff" stroke="#2a2aff" stroke-width="0.22" text-anchor="middle">N</text>
<text x="170.10" y="481.04" font-size="4.6" font-weight="bold" fill="#ff2a2a" stroke="#ff2a2a" stroke-width="0.22" text-anchor="middle">O</text>
<text x="209.90" y="503.54" font-size="4.6" font-weight="bold" fill="#bcbc2a" stroke="#bcbc2a" stroke-width="0.22" text-anchor="middle">S</text>
<text x="214.20" y="493.24" font-size="4.6" font-weight="bold" fill="#ff2a2a" stroke="#ff2a2a" stroke-width="0.22" text-anchor="middle">O</text>
<text x="220.70" y="505.04" font-size="4.6" font-weight="bold" fill="#ff2a2a" stroke="#ff2a2a" stroke-width="0.22" text-anchor="middle">O</text>
<text x="220.10" y="553.04" font-size="4.6" font-weight="bold" fill="#ff2a2a" stroke="#ff2a2a" stroke-width="0.22" text-anchor="middle">O</text>
<text x="200.60" y="553.04" font-size="4.6" font-weight="bold" fill="#ff2a2a" stroke="#ff2a2a" stroke-width="0.22" text-anchor="middle">O</text>
<text x="205.29" y="553.04" font-size="4.6" font-weight="bold" fill="#ff2a2a" stroke="#ff2a2a" stroke-width="0.22" text-anchor="middle">H</text>
<line x1="284.40" y1="474.70" x2="295.70" y2="477.30" stroke="#343434" stroke-width="1.06" stroke-linecap="round"/>
<line x1="295.70" y1="477.30" x2="298.20" y2="488.50" stroke="#343434" stroke-width="1.06" stroke-linecap="round"/>
<line x1="298.20" y1="488.50" x2="289.40" y2="496.90" stroke="#343434" stroke-width="1.06" stroke-linecap="round"/>
<line x1="289.40" y1="496.90" x2="279.10" y2="493.80" stroke="#343434" stroke-width="1.06" stroke-linecap="round"/>
<line x1="279.10" y1="493.80" x2="276.20" y2="482.60" stroke="#343434" stroke-width="1.06" stroke-linecap="round"/>
<line x1="276.20" y1="482.60" x2="284.40" y2="474.70" stroke="#343434" stroke-width="1.06" stroke-linecap="round"/>
<line x1="305.10" y1="520.90" x2="315.90" y2="524.50" stroke="#343434" stroke-width="1.06" stroke-linecap="round"/>
<line x1="315.90" y1="524.50" x2="318.50" y2="535.70" stroke="#343434" stroke-width="1.06" stroke-linecap="round"/>
<line x1="318.50" y1="535.70" x2="310.00" y2="543.60" stroke="#343434" stroke-width="1.06" stroke-linecap="round"/>
<line x1="310.00" y1="543.60" x2="299.20" y2="540.20" stroke="#343434" stroke-width="1.06" stroke-linecap="round"/>
<line x1="299.20" y1="540.20" x2="296.60" y2="528.80" stroke="#343434" stroke-width="1.06" stroke-linecap="round"/>
<line x1="296.60" y1="528.80" x2="305.10" y2="520.90" stroke="#343434" stroke-width="1.06" stroke-linecap="round"/>
<line x1="298.20" y1="488.50" x2="308.60" y2="492.40" stroke="#343434" stroke-width="1.06" stroke-linecap="round"/>
<line x1="308.60" y1="492.40" x2="315.28" y2="486.64" stroke="#343434" stroke-width="1.06" stroke-linecap="round"/>
<line x1="316.69" y1="482.30" x2="314.90" y2="474.70" stroke="#343434" stroke-width="1.06" stroke-linecap="round"/>
<line x1="314.90" y1="474.70" x2="323.80" y2="467.40" stroke="#343434" stroke-width="1.06" stroke-linecap="round"/>
<line x1="319.84" y1="485.73" x2="328.30" y2="488.50" stroke="#343434" stroke-width="1.06" stroke-linecap="round"/>
<line x1="328.30" y1="488.50" x2="336.60" y2="481.20" stroke="#343434" stroke-width="1.06" stroke-linecap="round"/>
<line x1="308.60" y1="492.40" x2="310.00" y2="503.20" stroke="#343434" stroke-width="1.06" stroke-linecap="round"/>
<line x1="310.14" y1="502.67" x2="319.35" y2="505.01" stroke="#343434" stroke-width="0.95" stroke-linecap="round"/>
<line x1="309.86" y1="503.73" x2="319.08" y2="506.08" stroke="#343434" stroke-width="0.95" stroke-linecap="round"/>
<line x1="310.00" y1="503.20" x2="304.78" y2="507.91" stroke="#343434" stroke-width="1.06" stroke-linecap="round"/>
<line x1="303.34" y1="512.31" x2="305.10" y2="520.90" stroke="#343434" stroke-width="1.06" stroke-linecap="round"/>
<line x1="299.20" y1="540.20" x2="293.69" y2="545.12" stroke="#343434" stroke-width="1.06" stroke-linecap="round"/>
<line x1="293.48" y1="548.89" x2="300.20" y2="556.40" stroke="#343434" stroke-width="1.06" stroke-linecap="round"/>
<line x1="300.20" y1="556.40" x2="307.15" y2="553.44" stroke="#343434" stroke-width="1.06" stroke-linecap="round"/>
<line x1="309.72" y1="549.73" x2="310.00" y2="543.60" stroke="#343434" stroke-width="1.06" stroke-linecap="round"/>
<circle cx="287.17" cy="485.63" r="7.12" fill="none" stroke="#5a5a5a" stroke-width="0.7"/>
<circle cx="307.55" cy="532.28" r="7.14" fill="none" stroke="#5a5a5a" stroke-width="0.7"/>
<text x="317.30" y="486.74" font-size="4.6" font-weight="bold" fill="#2a2aff" stroke="#2a2aff" stroke-width="0.22" text-anchor="middle">N</text>
<text x="321.80" y="508.04" font-size="4.6" font-weight="bold" fill="#ff2a2a" stroke="#ff2a2a" stroke-width="0.22" text-anchor="middle">O</text>
<text x="302.80" y="511.54" font-size="4.6" font-weight="bold" fill="#2a2aff" stroke="#2a2aff" stroke-width="0.22" text-anchor="middle">N</text>
<text x="307.49" y="511.54" font-size="4.6" font-weight="bold" fill="#2a2aff" stroke="#2a2aff" stroke-width="0.22" text-anchor="middle">H</text>
<text x="291.70" y="548.74" font-size="4.6" font-weight="bold" fill="#ff2a2a" stroke="#ff2a2a" stroke-width="0.22" text-anchor="middle">O</text>
<text x="309.60" y="554.24" font-size="4.6" font-weight="bold" fill="#ff2a2a" stroke="#ff2a2a" stroke-width="0.22" text-anchor="middle">O</text>
<line x1="385.90" y1="480.60" x2="395.80" y2="486.10" stroke="#343434" stroke-width="1.06" stroke-linecap="round"/>
<line x1="395.80" y1="486.10" x2="395.80" y2="497.30" stroke="#343434" stroke-width="1.06" stroke-linecap="round"/>
<line x1="395.80" y1="497.30" x2="385.90" y2="502.80" stroke="#343434" stroke-width="1.06" stroke-linecap="round"/>
<line x1="385.90" y1="502.80" x2="376.10" y2="497.30" stroke="#343434" stroke-width="1.06" stroke-linecap="round"/>
<line x1="376.10" y1="497.30" x2="376.10" y2="486.10" stroke="#343434" stroke-width="1.06" stroke-linecap="round"/>
<line x1="376.10" y1="486.10" x2="385.90" y2="480.60" stroke="#343434" stroke-width="1.06" stroke-linecap="round"/>
<line x1="426.90" y1="513.70" x2="437.30" y2="519.40" stroke="#343434" stroke-width="1.06" stroke-linecap="round"/>
<line x1="437.30" y1="519.40" x2="437.30" y2="530.80" stroke="#343434" stroke-width="1.06" stroke-linecap="round"/>
<line x1="437.30" y1="530.80" x2="426.90" y2="536.30" stroke="#343434" stroke-width="1.06" stroke-linecap="round"/>
<line x1="426.90" y1="536.30" x2="416.40" y2="530.80" stroke="#343434" stroke-width="1.06" stroke-linecap="round"/>
<line x1="416.40" y1="530.80" x2="416.40" y2="519.40" stroke="#343434" stroke-width="1.06" stroke-linecap="round"/>
<line x1="416.40" y1="519.40" x2="426.90" y2="513.70" stroke="#343434" stroke-width="1.06" stroke-linecap="round"/>
<line x1="365.90" y1="469.80" x2="365.90" y2="477.93" stroke="#343434" stroke-width="1.06" stroke-linecap="round"/>
<line x1="368.25" y1="481.87" x2="376.10" y2="486.10" stroke="#343434" stroke-width="1.06" stroke-linecap="round"/>
<line x1="395.80" y1="497.30" x2="403.27" y2="501.49" stroke="#343434" stroke-width="1.06" stroke-linecap="round"/>
<line x1="407.99" y1="501.61" x2="416.60" y2="497.30" stroke="#343434" stroke-width="1.06" stroke-linecap="round"/>
<line x1="405.60" y1="505.47" x2="405.60" y2="511.33" stroke="#343434" stroke-width="1.06" stroke-linecap="round"/>
<line x1="402.88" y1="514.09" x2="397.14" y2="513.10" stroke="#343434" stroke-width="0.95" stroke-linecap="round"/>
<line x1="403.06" y1="513.00" x2="397.32" y2="512.01" stroke="#343434" stroke-width="0.95" stroke-linecap="round"/>
<line x1="405.31" y1="516.71" x2="403.64" y2="521.93" stroke="#343434" stroke-width="0.95" stroke-linecap="round"/>
<line x1="404.26" y1="516.37" x2="402.59" y2="521.59" stroke="#343434" stroke-width="0.95" stroke-linecap="round"/>
<line x1="407.99" y1="515.19" x2="416.40" y2="519.40" stroke="#343434" stroke-width="1.06" stroke-linecap="round"/>
<line x1="437.30" y1="530.80" x2="443.86" y2="534.41" stroke="#343434" stroke-width="1.06" stroke-linecap="round"/>
<line x1="446.27" y1="538.37" x2="446.50" y2="547.50" stroke="#343434" stroke-width="1.06" stroke-linecap="round"/>
<line x1="446.76" y1="547.02" x2="454.31" y2="551.06" stroke="#343434" stroke-width="0.95" stroke-linecap="round"/>
<line x1="446.24" y1="547.98" x2="453.79" y2="552.03" stroke="#343434" stroke-width="0.95" stroke-linecap="round"/>
<line x1="446.50" y1="547.50" x2="436.30" y2="552.80" stroke="#343434" stroke-width="1.06" stroke-linecap="round"/>
<circle cx="385.93" cy="491.70" r="6.98" fill="none" stroke="#5a5a5a" stroke-width="0.7"/>
<circle cx="426.87" cy="525.07" r="7.26" fill="none" stroke="#5a5a5a" stroke-width="0.7"/>
<text x="365.90" y="482.44" font-size="4.6" font-weight="bold" fill="#ff2a2a" stroke="#ff2a2a" stroke-width="0.22" text-anchor="middle">O</text>
<text x="405.60" y="504.64" font-size="4.6" font-weight="bold" fill="#2a2aff" stroke="#2a2aff" stroke-width="0.22" text-anchor="middle">N</text>
<text x="405.60" y="515.84" font-size="4.6" font-weight="bold" fill="#bcbc2a" stroke="#bcbc2a" stroke-width="0.22" text-anchor="middle">S</text>
<text x="394.60" y="513.94" font-size="4.6" font-weight="bold" fill="#ff2a2a" stroke="#ff2a2a" stroke-width="0.22" text-anchor="middle">O</text>
<text x="402.30" y="526.14" font-size="4.6" font-weight="bold" fill="#ff2a2a" stroke="#ff2a2a" stroke-width="0.22" text-anchor="middle">O</text>
<text x="446.20" y="537.54" font-size="4.6" font-weight="bold" fill="#2a2aff" stroke="#2a2aff" stroke-width="0.22" text-anchor="middle">N</text>
<text x="450.89" y="537.54" font-size="4.6" font-weight="bold" fill="#2a2aff" stroke="#2a2aff" stroke-width="0.22" text-anchor="middle">H</text>
<text x="456.40" y="554.64" font-size="4.6" font-weight="bold" fill="#ff2a2a" stroke="#ff2a2a" stroke-width="0.22" text-anchor="middle">O</text>
<line x1="476.20" y1="479.60" x2="491.00" y2="471.20" stroke="#343434" stroke-width="0.98" stroke-linecap="round"/>
<line x1="491.00" y1="471.20" x2="505.40" y2="479.60" stroke="#343434" stroke-width="0.98" stroke-linecap="round"/>
<line x1="505.40" y1="479.60" x2="505.17" y2="490.90" stroke="#343434" stroke-width="0.98" stroke-linecap="round"/>
<line x1="502.04" y1="496.39" x2="491.00" y2="503.20" stroke="#343434" stroke-width="0.98" stroke-linecap="round"/>
<line x1="491.00" y1="503.20" x2="476.20" y2="494.80" stroke="#343434" stroke-width="0.98" stroke-linecap="round"/>
<line x1="476.20" y1="494.80" x2="476.20" y2="479.60" stroke="#343434" stroke-width="0.98" stroke-linecap="round"/>
<line x1="505.40" y1="479.60" x2="527.70" y2="489.60" stroke="#343434" stroke-width="0.98" stroke-linecap="round"/>
<line x1="527.70" y1="489.60" x2="529.60" y2="508.30" stroke="#343434" stroke-width="0.98" stroke-linecap="round"/>
<line x1="529.60" y1="508.30" x2="511.60" y2="515.60" stroke="#343434" stroke-width="0.98" stroke-linecap="round"/>
<line x1="511.60" y1="515.60" x2="491.00" y2="503.20" stroke="#343434" stroke-width="0.98" stroke-linecap="round"/>
<line x1="508.25" y1="496.24" x2="516.65" y2="500.86" stroke="#343434" stroke-width="0.98" stroke-linecap="round"/>
<line x1="519.80" y1="506.20" x2="519.80" y2="519.00" stroke="#343434" stroke-width="0.98" stroke-linecap="round"/>
<line x1="519.80" y1="519.00" x2="505.40" y2="526.40" stroke="#343434" stroke-width="0.98" stroke-linecap="round"/>
<line x1="548.60" y1="518.60" x2="563.40" y2="526.80" stroke="#343434" stroke-width="0.98" stroke-linecap="round"/>
<line x1="563.40" y1="526.80" x2="563.40" y2="542.60" stroke="#343434" stroke-width="0.98" stroke-linecap="round"/>
<line x1="563.40" y1="542.60" x2="548.60" y2="551.00" stroke="#343434" stroke-width="0.98" stroke-linecap="round"/>
<line x1="548.60" y1="551.00" x2="533.90" y2="542.60" stroke="#343434" stroke-width="0.98" stroke-linecap="round"/>
<line x1="533.90" y1="542.60" x2="533.90" y2="526.80" stroke="#343434" stroke-width="0.98" stroke-linecap="round"/>
<line x1="533.90" y1="526.80" x2="548.60" y2="518.60" stroke="#343434" stroke-width="0.98" stroke-linecap="round"/>
<line x1="519.80" y1="519.00" x2="533.90" y2="526.80" stroke="#343434" stroke-width="0.98" stroke-linecap="round"/>
<circle cx="548.63" cy="534.73" r="10.26" fill="none" stroke="#5a5a5a" stroke-width="0.7"/>
<text x="505.10" y="496.98" font-size="6.2" font-weight="bold" fill="#3a3a3a" stroke="#3a3a3a" stroke-width="0.22" text-anchor="middle">B</text>
<text x="519.80" y="505.08" font-size="6.2" font-weight="bold" fill="#ff2a2a" stroke="#ff2a2a" stroke-width="0.22" text-anchor="middle">O</text>
<line x1="608.40" y1="465.40" x2="621.20" y2="472.60" stroke="#343434" stroke-width="0.98" stroke-linecap="round"/>
<line x1="621.20" y1="472.60" x2="621.20" y2="486.50" stroke="#343434" stroke-width="0.98" stroke-linecap="round"/>
<line x1="621.20" y1="486.50" x2="608.40" y2="493.40" stroke="#343434" stroke-width="0.98" stroke-linecap="round"/>
<line x1="608.40" y1="493.40" x2="595.30" y2="486.50" stroke="#343434" stroke-width="0.98" stroke-linecap="round"/>
<line x1="595.30" y1="486.50" x2="595.30" y2="472.60" stroke="#343434" stroke-width="0.98" stroke-linecap="round"/>
<line x1="595.30" y1="472.60" x2="608.40" y2="465.40" stroke="#343434" stroke-width="0.98" stroke-linecap="round"/>
<line x1="646.80" y1="528.80" x2="659.60" y2="535.70" stroke="#343434" stroke-width="0.98" stroke-linecap="round"/>
<line x1="659.60" y1="535.70" x2="659.60" y2="550.10" stroke="#343434" stroke-width="0.98" stroke-linecap="round"/>
<line x1="659.60" y1="550.10" x2="646.80" y2="557.40" stroke="#343434" stroke-width="0.98" stroke-linecap="round"/>
<line x1="646.80" y1="557.40" x2="634.00" y2="550.10" stroke="#343434" stroke-width="0.98" stroke-linecap="round"/>
<line x1="634.00" y1="550.10" x2="634.00" y2="535.70" stroke="#343434" stroke-width="0.98" stroke-linecap="round"/>
<line x1="634.00" y1="535.70" x2="646.80" y2="528.80" stroke="#343434" stroke-width="0.98" stroke-linecap="round"/>
<line x1="621.20" y1="472.60" x2="634.00" y2="465.40" stroke="#343434" stroke-width="0.98" stroke-linecap="round"/>
<line x1="595.30" y1="486.50" x2="582.50" y2="493.80" stroke="#343434" stroke-width="0.98" stroke-linecap="round"/>
<line x1="621.20" y1="486.50" x2="634.00" y2="493.40" stroke="#343434" stroke-width="0.98" stroke-linecap="round"/>
<line x1="634.00" y1="493.40" x2="646.80" y2="486.50" stroke="#343434" stroke-width="0.98" stroke-linecap="round"/>
<line x1="634.00" y1="493.40" x2="633.69" y2="504.41" stroke="#343434" stroke-width="0.98" stroke-linecap="round"/>
<line x1="636.42" y1="509.09" x2="646.80" y2="514.60" stroke="#343434" stroke-width="0.98" stroke-linecap="round"/>
<line x1="646.53" y1="514.12" x2="655.96" y2="508.71" stroke="#343434" stroke-width="0.88" stroke-linecap="round"/>
<line x1="647.07" y1="515.08" x2="656.51" y2="509.66" stroke="#343434" stroke-width="0.88" stroke-linecap="round"/>
<line x1="646.80" y1="514.60" x2="646.80" y2="528.80" stroke="#343434" stroke-width="0.98" stroke-linecap="round"/>
<line x1="659.60" y1="535.70" x2="667.43" y2="531.34" stroke="#343434" stroke-width="0.98" stroke-linecap="round"/>
<circle cx="608.30" cy="479.50" r="8.97" fill="none" stroke="#5a5a5a" stroke-width="0.7"/>
<circle cx="646.80" cy="542.97" r="9.03" fill="none" stroke="#5a5a5a" stroke-width="0.7"/>
<text x="633.60" y="509.80" font-size="5.5" font-weight="bold" fill="#2a2aff" stroke="#2a2aff" stroke-width="0.22" text-anchor="middle">N</text>
<text x="638.55" y="509.80" font-size="5.5" font-weight="bold" fill="#2a2aff" stroke="#2a2aff" stroke-width="0.22" text-anchor="middle">H</text>
<text x="659.00" y="509.80" font-size="5.5" font-weight="bold" fill="#ff2a2a" stroke="#ff2a2a" stroke-width="0.22" text-anchor="middle">O</text>
<text x="672.00" y="531.00" font-size="5.5" font-weight="bold" fill="#3a3a3a" stroke="#3a3a3a" stroke-width="0.22" text-anchor="middle">Br</text>
</svg>
</body></html>
